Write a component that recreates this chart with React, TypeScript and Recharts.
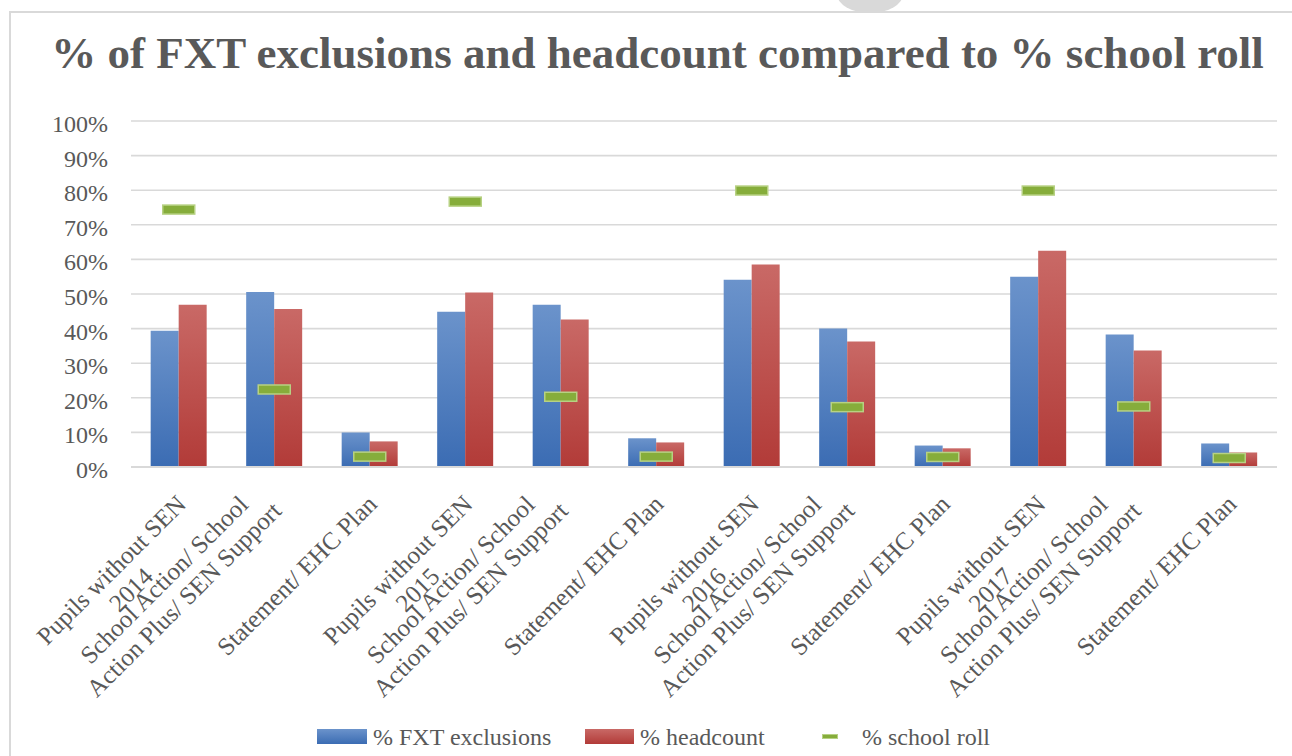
import React from "react";
import { ComposedChart, Bar, Line, XAxis, YAxis, CartesianGrid } from "recharts";

// --- data (percent) ---
const years = ["2014", "2015", "2016", "2017"];
const groups = [
  "Pupils without SEN",
  "School Action/ School Action Plus/ SEN Support",
  "Statement/ EHC Plan",
];
// how Excel wrapped each group label
const groupLines = [
  ["Pupils without SEN"],
  ["School Action/ School", "Action Plus/ SEN Support"],
  ["Statement/ EHC Plan"],
];
const fxtExclusions = [39.4, 50.6, 10.0, 44.9, 46.9, 8.3, 54.1, 40.0, 6.2, 55.0, 38.3, 6.8];
const headcount = [46.9, 45.7, 7.4, 50.4, 42.6, 7.1, 58.5, 36.3, 5.4, 62.5, 33.7, 4.2];
const schoolRoll = [74.4, 22.4, 3.0, 76.7, 20.3, 3.0, 79.9, 17.3, 2.9, 79.9, 17.5, 2.6];
const yTicks = [0, 10, 20, 30, 40, 50, 60, 70, 80, 90, 100];

const data = fxtExclusions.map((v, i) => {
  const year = years[Math.floor(i / 3)];
  const g = i % 3;
  return {
    label: `${groups[g]} ${year}`,
    lines: g === 0 ? [...groupLines[g], year] : groupLines[g],
    fxt: v,
    headcount: headcount[i],
    roll: schoolRoll[i],
  };
});

const FONT = '"Liberation Serif", "Times New Roman", serif';
const GREY = "#595959";
const LABEL_FS = 25;
const LINE_H = 28;

let ctx: CanvasRenderingContext2D | null = null;
function measure(text: string, fs: number) {
  if (!ctx) ctx = document.createElement("canvas").getContext("2d");
  if (!ctx) return text.length * fs * 0.45;
  ctx.font = `${fs}px "Liberation Serif"`;
  return ctx.measureText(text).width;
}

function CategoryTick(props: any) {
  const { x, y, index } = props;
  const lines: string[] = data[index]?.lines ?? [];
  const widths = lines.map((t) => measure(t, LABEL_FS));
  const W = Math.max(...widths);
  const k = Math.SQRT1_2;
  let maxSx = -Infinity;
  let minSy = Infinity;
  // bounding box of the rotated block: anchor its top-right corner near the tick
  lines.forEach((_, i) => {
    const bx = -W / 2 + widths[i] / 2;
    const by = i * LINE_H;
    maxSx = Math.max(maxSx, k * (bx + by));
    minSy = Math.min(minSy, k * (by - bx));
  });
  const tx = x - 3 - maxSx;
  const ty = y + 27 - minSy;
  return (
    <g transform={`translate(${tx},${ty}) rotate(-45)`}>
      {lines.map((t, i) => (
        <text
          key={i}
          x={-W / 2}
          y={i * LINE_H + LABEL_FS * 0.66}
          textAnchor="middle"
          fill={GREY}
          fontSize={LABEL_FS}
          fontFamily={FONT}
        >
          {t}
        </text>
      ))}
    </g>
  );
}

function PercentTick(props: any) {
  const { x, y, payload } = props;
  return (
    <text x={x} y={y + 11} textAnchor="end" fill={GREY} fontSize={24} fontFamily={FONT}>
      {payload.value}%
    </text>
  );
}

function RollMarker(props: any) {
  const { cx, cy } = props;
  if (cx == null || cy == null) return null;
  return (
    <g>
      <rect x={cx - 16} y={cy - 4.5} width={32} height={9} fill="#86ad3b" stroke="#b7d183" strokeWidth={1.5} />
    </g>
  );
}

export default function App() {
  return (
    <div
      style={{
        position: "absolute",
        left: 0,
        top: 0,
        width: 1292,
        height: 756,
        overflow: "hidden",
        background: "#fff",
        fontFamily: FONT,
      }}
    >
      {/* page decoration + frame */}
      <svg width={1292} height={20} style={{ position: "absolute", left: 0, top: 0 }}>
        <ellipse cx={870} cy={-6} rx={33} ry={19} fill="#d9d9d9" />
      </svg>
      <div
        style={{
          position: "absolute",
          left: 9,
          top: 11,
          width: 1400,
          height: 900,
          border: "2px solid #d9d9d9",
        }}
      />

      <div
        style={{
          position: "absolute",
          left: 657.5,
          top: 31,
          transform: "translateX(-50%)",
          whiteSpace: "nowrap",
          fontSize: 45,
          lineHeight: "45px",
          fontWeight: "bold",
          color: GREY,
        }}
      >
        % of FXT exclusions and headcount compared to % school roll
      </div>

      <div style={{ position: "absolute", left: 0, top: 0 }}>
        <ComposedChart
          width={1292}
          height={756}
          data={data}
          margin={{ top: 121, right: 15, bottom: 0, left: 0 }}
          barCategoryGap="20.6%"
          barGap={0}
        >
          <defs>
            <linearGradient id="blueGrad" x1="0" y1="0" x2="0" y2="1">
              <stop offset="0%" stopColor="#6b93cb" />
              <stop offset="100%" stopColor="#3b6cb3" />
            </linearGradient>
            <linearGradient id="redGrad" x1="0" y1="0" x2="0" y2="1">
              <stop offset="0%" stopColor="#c96966" />
              <stop offset="100%" stopColor="#b23b38" />
            </linearGradient>
          </defs>
          <CartesianGrid vertical={false} stroke="#d9d9d9" strokeWidth={1.6} />
          <XAxis
            dataKey="label"
            height={289}
            interval={0}
            tickLine={false}
            tickSize={0}
            tickMargin={0}
            axisLine={{ stroke: "#d9d9d9", strokeWidth: 2 }}
            tick={<CategoryTick />}
          />
          <YAxis
            width={131}
            domain={[0, 100]}
            ticks={yTicks}
            axisLine={false}
            tickLine={false}
            tickSize={0}
            tickMargin={23}
            tick={<PercentTick />}
          />
          <Bar dataKey="fxt" name="% FXT exclusions" fill="url(#blueGrad)" isAnimationActive={false} />
          <Bar dataKey="headcount" name="% headcount" fill="url(#redGrad)" isAnimationActive={false} />
          <Line
            dataKey="roll"
            name="% school roll"
            stroke="none"
            dot={<RollMarker />}
            activeDot={false}
            isAnimationActive={false}
          />
        </ComposedChart>
      </div>

      {/* legend */}
      <div style={{ position: "absolute", left: 317, top: 729, width: 50, height: 15, background: "linear-gradient(#6b93cb, #3b6cb3)" }} />
      <div style={{ position: "absolute", left: 373, top: 725, fontSize: 24, lineHeight: "24px", color: GREY, whiteSpace: "nowrap" }}>
        % FXT exclusions
      </div>
      <div style={{ position: "absolute", left: 585, top: 729, width: 49, height: 15, background: "linear-gradient(#c96966, #b23b38)" }} />
      <div style={{ position: "absolute", left: 640, top: 725, fontSize: 24, lineHeight: "24px", color: GREY, whiteSpace: "nowrap" }}>
        % headcount
      </div>
      <div style={{ position: "absolute", left: 822, top: 734, width: 16, height: 5, background: "#86ad3b", border: "1px solid #b7d183", boxSizing: "border-box" }} />
      <div style={{ position: "absolute", left: 862, top: 725, fontSize: 24, lineHeight: "24px", color: GREY, whiteSpace: "nowrap" }}>
        % school roll
      </div>
    </div>
  );
}
